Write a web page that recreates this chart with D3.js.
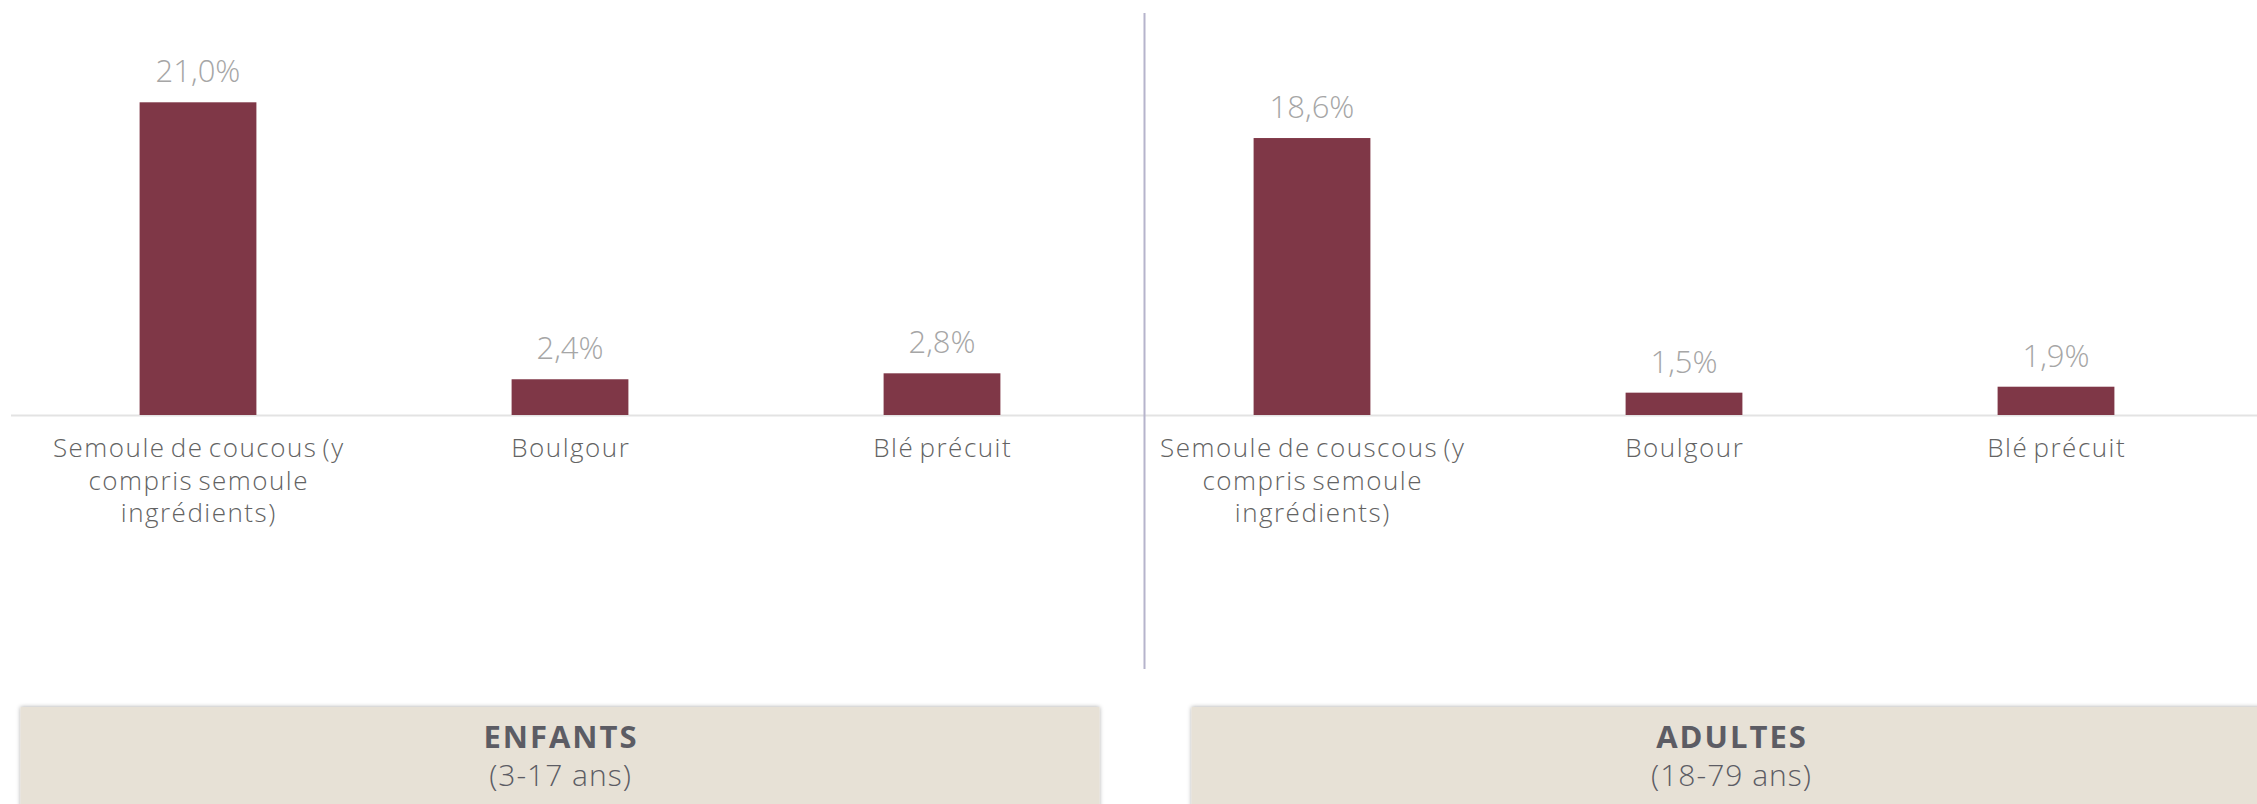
<!DOCTYPE html>
<html>
<head>
<meta charset="utf-8">
<script src="https://cdn.jsdelivr.net/npm/d3@7"></script>
<style>
  html, body { margin: 0; padding: 0; background: #ffffff; }
  svg { display: block; }
  text { font-family: "Open Sans", "Noto Sans", sans-serif; }
</style>
</head>
<body>
<svg id="chart" width="2257" height="804"></svg>
<script>
// Cereal-based semolina products: share of consumers (%), by age group
const childCategories = ["Semoule de coucous (y\ncompris semoule\ningrédients)", "Boulgour", "Blé précuit"];
const childValues = [21.0, 2.4, 2.8];
const adultCategories = ["Semoule de couscous (y\ncompris semoule\ningrédients)", "Boulgour", "Blé précuit"];
const adultValues = [18.6, 1.5, 1.9];
const groupTitles = ["ENFANTS", "ADULTES"];
const groupSubtitles = ["(3-17 ans)", "(18-79 ans)"];

const W = 2257, H = 804;
const svg = d3.select("#chart");

const BAR = "#7f3747";
const baseY = 415;

const fmt = v => d3.format(".1f")(v).replace(".", ",") + "%";

// shared value scale for both panels
const y = d3.scaleLinear().domain([0, 21]).range([baseY, 102.3]);

const defs = svg.append("defs");
const shadow = defs.append("filter").attr("id", "boxShadow")
  .attr("x", "-5%").attr("y", "-20%").attr("width", "110%").attr("height", "140%");
shadow.append("feDropShadow").attr("dx", 0).attr("dy", 0)
  .attr("stdDeviation", 2.2).attr("flood-color", "#000").attr("flood-opacity", 0.35);

// baseline across both panels
svg.append("line")
  .attr("x1", 11).attr("x2", W).attr("y1", baseY + 0.5).attr("y2", baseY + 0.5)
  .attr("stroke", "#e3e3e3").attr("stroke-width", 2);

// vertical separator between the two panels
svg.append("line")
  .attr("x1", 1144.5).attr("x2", 1144.5).attr("y1", 13).attr("y2", 669)
  .attr("stroke", "#b6b4cc").attr("stroke-width", 2);

// centred multi-line text; trailing letter-spacing is compensated with a small shift
function centredLabel(sel, ls) {
  sel.each(function (d) {
    const t = d3.select(this);
    const cx = +t.attr("x") + ls / 2;
    d.split("\n").forEach((line, i) => {
      t.append("tspan")
        .attr("x", cx)
        .attr("dy", i === 0 ? 0 : 32.5)
        .text(line);
    });
  });
}

function panel(categories, values, range) {
  const p = 0.686;
  const x = d3.scaleBand().domain(categories).range(range)
    .paddingInner(p).paddingOuter(p / 2);
  const g = svg.append("g");

  g.selectAll("rect.bar").data(values).join("rect")
    .attr("class", "bar")
    .attr("x", (d, i) => x(categories[i]))
    .attr("y", d => y(d))
    .attr("width", x.bandwidth())
    .attr("height", d => baseY - y(d))
    .attr("fill", BAR);

  g.selectAll("text.val").data(values).join("text")
    .attr("class", "val")
    .attr("x", (d, i) => x(categories[i]) + x.bandwidth() / 2)
    .attr("y", d => y(d) - 20)
    .attr("text-anchor", "middle")
    .attr("font-size", 31)
    .attr("font-weight", 300)
    .attr("fill", "#a6a6a6")
    .text(d => fmt(d));

  const ls = 1.5;
  g.selectAll("text.cat").data(categories).join("text")
    .attr("class", "cat")
    .attr("x", d => x(d) + x.bandwidth() / 2)
    .attr("y", 457)
    .attr("text-anchor", "middle")
    .attr("font-size", 26)
    .attr("font-weight", 300)
    .attr("letter-spacing", ls)
    .attr("word-spacing", -3)
    .attr("fill", "#636363")
    .call(centredLabel, ls);
}

panel(childCategories, childValues, [12, 1128]);
panel(adultCategories, adultValues, [1126, 2242]);

// group header boxes
const boxes = [
  { x: 20.5, w: 1079 },
  { x: 1191.5, w: 1079 }
];
boxes.forEach((b, i) => {
  svg.append("rect")
    .attr("x", b.x).attr("y", 707)
    .attr("width", b.w).attr("height", 140)
    .attr("fill", "#e7e1d6")
    .attr("filter", "url(#boxShadow)");
  const cx = b.x + b.w / 2;
  svg.append("text")
    .attr("x", cx + 1).attr("y", 748)
    .attr("text-anchor", "middle")
    .attr("font-size", 31)
    .attr("font-weight", 700)
    .attr("letter-spacing", 2)
    .attr("fill", "#5c5c64")
    .text(groupTitles[i]);
  svg.append("text")
    .attr("x", cx + 0.5).attr("y", 786)
    .attr("text-anchor", "middle")
    .attr("font-size", 30)
    .attr("font-weight", 300)
    .attr("letter-spacing", 1)
    .attr("fill", "#5c5c64")
    .text(groupSubtitles[i]);
});
</script>
</body>
</html>
